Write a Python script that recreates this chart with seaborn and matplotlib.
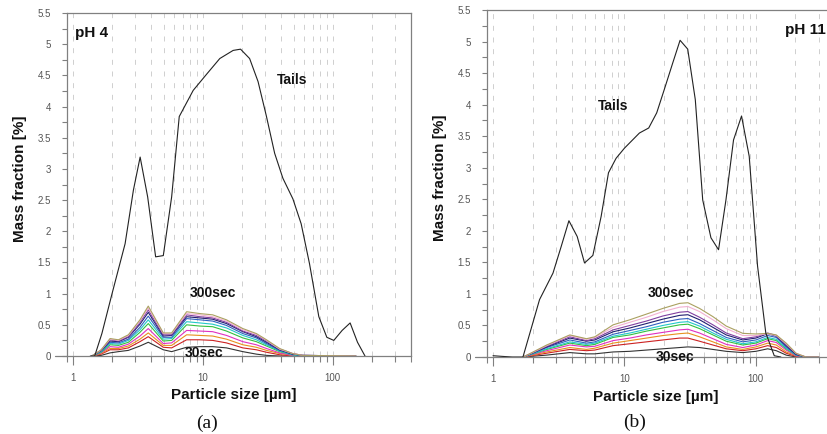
import matplotlib
matplotlib.use("Agg")
import matplotlib.pyplot as plt
import pandas as pd
import seaborn as sns
from matplotlib.ticker import MultipleLocator, FuncFormatter, NullFormatter, LogLocator

# ---------------- data : panel (a) pH 4 ----------------
a_tails_size = [1.36, 1.47, 1.67, 2.0, 2.52, 2.92, 3.29, 3.76, 4.33, 4.96, 5.75, 6.58, 8.43, 10.7,
                13.5, 17.1, 19.5, 22.9, 26.6, 30.8, 35.7, 41.3, 49.3, 57.1, 66.2, 78.1, 90, 101.8,
                118, 136, 155, 177]
a_tails_frac = [0, 0, 0.36, 1.0, 1.8, 2.66, 3.19, 2.55, 1.59, 1.61, 2.55, 3.84, 4.26, 4.52,
                4.77, 4.90, 4.92, 4.77, 4.40, 3.85, 3.25, 2.85, 2.52, 2.12, 1.48, 0.63, 0.30, 0.25,
                0.41, 0.53, 0.22, 0]

a_size = [1.40, 1.65, 1.93, 2.24, 2.67, 3.28, 3.80, 4.96, 5.75, 7.5, 9.5, 11.9, 15.2, 20.3,
          25.8, 30.9, 39, 49, 58.6, 150]
a_s01 = [0, .01, .05, .07, .09, .16, .22, .10, .07, .14, .15, .15, .13, .07, .03, .01, 0, 0, 0, 0]
a_s02 = [0, .03, .10, .10, .13, .23, .31, .14, .13, .26, .26, .25, .21, .13, .10, .06, .02, 0, 0, 0]
a_s03 = [0, .04, .12, .12, .16, .27, .37, .17, .17, .34, .33, .32, .27, .18, .14, .09, .04, .01, 0, 0]
a_s04 = [0, .05, .15, .14, .19, .32, .44, .20, .21, .41, .40, .39, .33, .23, .18, .12, .05, .01, 0, 0]
a_s05 = [0, .06, .18, .17, .22, .38, .52, .24, .25, .50, .48, .47, .40, .29, .23, .16, .07, .02, 0, 0]
a_s06 = [0, .07, .20, .19, .25, .42, .58, .27, .28, .55, .53, .51, .45, .33, .26, .18, .08, .02, 0, 0]
a_s07 = [0, .08, .22, .21, .27, .46, .64, .30, .30, .60, .58, .56, .49, .36, .29, .20, .09, .03, .01, 0]
a_s08 = [0, .09, .24, .23, .30, .51, .70, .32, .33, .63, .61, .59, .52, .39, .31, .22, .10, .03, .01, 0]
a_s09 = [0, .09, .26, .24, .31, .54, .74, .34, .34, .66, .63, .61, .54, .40, .33, .24, .11, .04, .01, 0]
a_s10 = [0, .10, .27, .25, .33, .56, .77, .36, .36, .68, .66, .63, .56, .42, .35, .25, .11, .04, .01, 0]
a_s11 = [0, .10, .28, .26, .34, .58, .80, .37, .37, .71, .68, .66, .58, .44, .36, .26, .12, .04, .01, 0]

# ---------------- data : panel (b) pH 11 ----------------
b_tails_size = [1.0, 1.17, 1.40, 1.69, 2.26, 2.86, 3.30, 3.78, 4.37, 4.97, 5.75, 6.65, 7.56, 8.64,
                10.0, 13.0, 15.3, 17.6, 20.1, 23.3, 26.5, 30.3, 34.6, 39.4, 45.5, 52.0, 59.2, 67.6,
                77.8, 89.0, 103, 119, 138, 155]
b_tails_frac = [0.02, 0.01, 0, 0, 0.91, 1.33, 1.75, 2.16, 1.91, 1.49, 1.61, 2.23, 2.92, 3.15,
                3.31, 3.55, 3.63, 3.87, 4.24, 4.66, 5.02, 4.88, 4.08, 2.49, 1.89, 1.70, 2.49, 3.44,
                3.82, 3.18, 1.44, 0.38, 0.02, 0]

b_size = [1.70, 2.56, 3.84, 5.14, 5.95, 8.2, 11, 14.7, 19.6, 26.3, 30.4, 37.3, 47.1, 59.5,
          79.5, 100, 123, 143, 170, 202, 240, 300]
b_s01 = [0, .03, .07, .05, .05, .08, .09, .11, .13, .15, .16, .15, .12, .09, .07, .09, .13, .10, .03, 0, 0, 0]
b_s02 = [0, .06, .12, .10, .11, .18, .21, .24, .27, .30, .30, .25, .19, .13, .10, .13, .18, .15, .06, .01, 0, 0]
b_s03 = [0, .08, .15, .12, .14, .22, .26, .30, .34, .37, .38, .32, .24, .16, .12, .16, .22, .19, .08, .02, 0, 0]
b_s04 = [0, .10, .19, .16, .17, .26, .30, .35, .39, .43, .44, .38, .29, .20, .15, .19, .26, .23, .11, .02, 0, 0]
b_s05 = [0, .12, .22, .18, .20, .31, .35, .41, .46, .51, .52, .45, .35, .25, .19, .22, .29, .26, .13, .03, 0, 0]
b_s06 = [0, .13, .24, .20, .22, .33, .38, .44, .50, .55, .56, .49, .38, .28, .21, .24, .31, .28, .14, .03, 0, 0]
b_s07 = [0, .15, .27, .22, .24, .36, .42, .48, .55, .60, .61, .53, .42, .31, .24, .27, .34, .31, .16, .04, 0, 0]
b_s08 = [0, .16, .30, .25, .27, .40, .46, .53, .60, .66, .67, .59, .47, .35, .27, .30, .37, .33, .18, .04, 0, 0]
b_s09 = [0, .17, .32, .26, .29, .43, .50, .57, .65, .71, .72, .63, .51, .38, .29, .32, .38, .34, .20, .05, 0, 0]
b_s10 = [0, .18, .34, .28, .31, .47, .55, .63, .72, .79, .80, .72, .59, .45, .34, .34, .37, .34, .21, .06, 0, 0]
b_s11 = [0, .19, .35, .29, .32, .51, .59, .68, .77, .85, .86, .77, .64, .49, .375, .365, .375, .35, .22, .06, 0, 0]

series_names = ["30sec", "s02", "s03", "s04", "s05", "s06", "s07", "s08", "s09", "s10", "300sec"]
series_colors = ["#333333", "#cc2222", "#e8901e", "#e030c0", "#33c040", "#22c8c8",
                 "#3060c0", "#202070", "#8040a0", "#f2b0d2", "#aaa060"]


def long_frame(size, series):
    rows = []
    for name, vals in zip(series_names, series):
        for s, v in zip(size, vals):
            rows.append((s, v, name))
    return pd.DataFrame(rows, columns=["size", "fraction", "series"])


df_a = long_frame(a_size, [a_s01, a_s02, a_s03, a_s04, a_s05, a_s06, a_s07, a_s08, a_s09, a_s10, a_s11])
df_b = long_frame(b_size, [b_s01, b_s02, b_s03, b_s04, b_s05, b_s06, b_s07, b_s08, b_s09, b_s10, b_s11])
tails_a = pd.DataFrame({"size": a_tails_size, "fraction": a_tails_frac})
tails_b = pd.DataFrame({"size": b_tails_size, "fraction": b_tails_frac})

sns.set_theme(style="white")
plt.rcParams['font.family'] = ['Liberation Sans', 'DejaVu Sans']

fig = plt.figure(figsize=(8.27, 4.34), dpi=100)
axA = fig.add_axes([67 / 827, 78 / 434, 344 / 827, 343 / 434])
axB = fig.add_axes([487 / 827, 77 / 434, 348 / 827, 347 / 434])

SPINE = "#808080"


def style_axes(ax):
    ax.set_xscale("log")
    ax.set_xlim(0.9, 400)
    ax.set_ylim(0, 5.5)
    ax.xaxis.set_major_locator(LogLocator(base=10))
    ax.xaxis.set_minor_locator(LogLocator(base=10, subs=range(2, 10)))
    ax.xaxis.set_major_formatter(FuncFormatter(lambda v, p: f"{v:g}"))
    ax.xaxis.set_minor_formatter(NullFormatter())
    ax.yaxis.set_major_locator(MultipleLocator(0.5))
    ax.yaxis.set_minor_locator(MultipleLocator(0.25))
    ax.yaxis.set_major_formatter(FuncFormatter(lambda v, p: f"{v:g}"))
    ax.grid(True, which="both", axis="x", color="#c8c8c8", lw=0.6, ls=(0, (6, 8)))
    ax.grid(False, axis="y")
    ax.set_axisbelow(True)
    for sp in ax.spines.values():
        sp.set_color(SPINE)
        sp.set_linewidth(0.9)
    ax.tick_params(axis="both", which="both", bottom=True, left=True, top=False, right=False,
                   color=SPINE, labelcolor="#555555", labelsize=7, width=0.8)
    ax.tick_params(axis="y", which="both", length=3.6, pad=8)
    ax.tick_params(axis="x", which="major", length=6.5, pad=6)
    ax.tick_params(axis="x", which="minor", length=4)
    ax.axhline(0, xmin=-0.035, xmax=0, color=SPINE, lw=0.9, clip_on=False)


for ax, df, tails in [(axA, df_a, tails_a), (axB, df_b, tails_b)]:
    style_axes(ax)
    sns.lineplot(data=df, x="size", y="fraction", hue="series", palette=series_colors,
                 hue_order=series_names, estimator=None, errorbar=None, legend=False,
                 lw=0.8, ax=ax, sort=False)
    sns.lineplot(data=tails, x="size", y="fraction", color="#222222", lw=0.8,
                 estimator=None, errorbar=None, ax=ax, sort=False)
    ax.set_xlim(0.9, 400)
    ax.set_ylim(0, 5.5)
    ax.set_xlabel("Particle size [µm]", fontsize=11, fontweight="bold", color="#111111")
    ax.set_ylabel("Mass fraction [%]", fontsize=11, fontweight="bold", color="#111111")
    ax.xaxis.label.set_va("center")
    ax.yaxis.label.set_va("center")

axA.xaxis.set_label_coords(0.484, -0.114)
axA.yaxis.set_label_coords(-0.137, 0.516)
axB.xaxis.set_label_coords(0.486, -0.115)
axB.yaxis.set_label_coords(-0.135, 0.516)

tk = dict(fontsize=10, fontweight="bold", va="center", ha="left", color="#111111")
axA.text(0.023, 0.942, "pH 4", transform=axA.transAxes, **{**tk, "fontsize": 11})
axA.text(0.61, 0.805, "Tails", transform=axA.transAxes, **tk)
axA.text(0.358, 0.184, "300sec", transform=axA.transAxes, **tk)
axA.text(0.343, 0.008, "30sec", transform=axA.transAxes, **tk)

axB.text(0.856, 0.942, "pH 11", transform=axB.transAxes, **{**tk, "fontsize": 11})
axB.text(0.319, 0.723, "Tails", transform=axB.transAxes, **tk)
axB.text(0.463, 0.184, "300sec", transform=axB.transAxes, **tk)
axB.text(0.486, 0.0, "30sec", transform=axB.transAxes, **tk)

fig.text(0.250, 0.025, "(a)", fontsize=14, family=["Liberation Serif", "DejaVu Serif"],
         ha="center", va="center", color="#111111")
fig.text(0.767, 0.028, "(b)", fontsize=14, family=["Liberation Serif", "DejaVu Serif"],
         ha="center", va="center", color="#111111")

fig.savefig("out.png", dpi=100)
